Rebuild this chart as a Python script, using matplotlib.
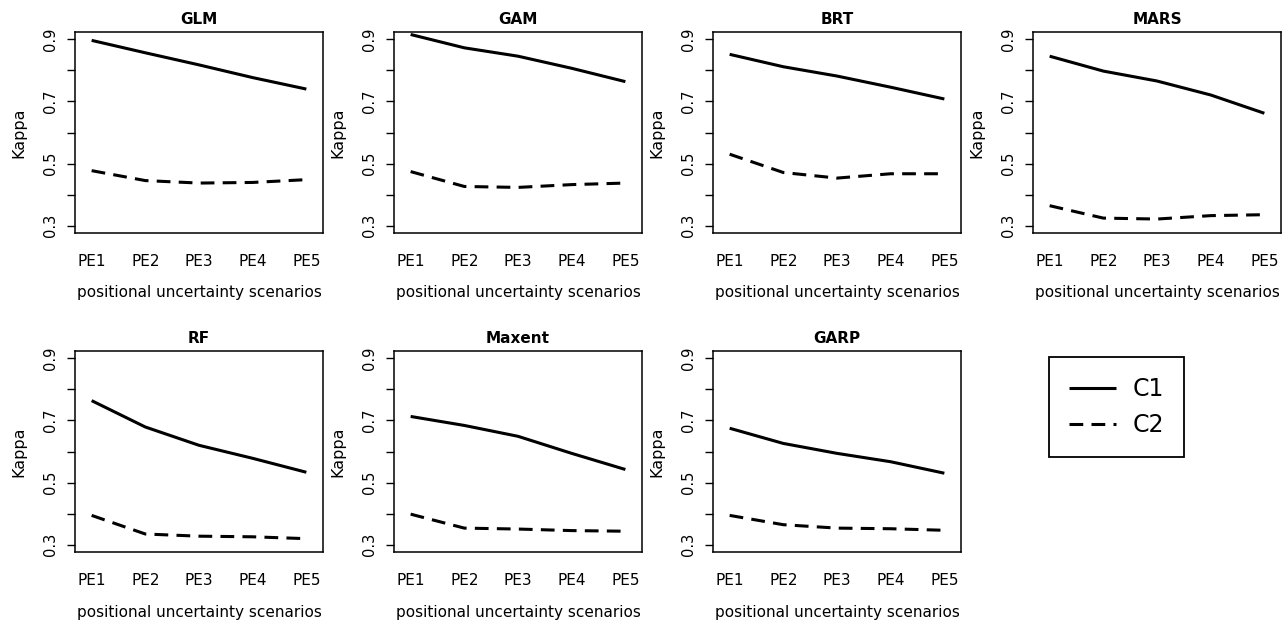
import matplotlib
matplotlib.use('Agg')
import matplotlib.pyplot as plt

# Kappa per model for the five positional uncertainty scenarios
models = ["GLM", "GAM", "BRT", "MARS", "RF", "Maxent", "GARP"]
scenarios = ["PE1", "PE2", "PE3", "PE4", "PE5"]

c1 = {
    "GLM":    [0.897, 0.857, 0.818, 0.777, 0.740],
    "GAM":    [0.916, 0.873, 0.846, 0.807, 0.764],
    "BRT":    [0.852, 0.812, 0.782, 0.746, 0.708],
    "MARS":   [0.846, 0.798, 0.766, 0.721, 0.662],
    "RF":     [0.764, 0.679, 0.620, 0.578, 0.533],
    "Maxent": [0.713, 0.684, 0.649, 0.594, 0.542],
    "GARP":   [0.675, 0.626, 0.594, 0.567, 0.530],
}
c2 = {
    "GLM":    [0.477, 0.445, 0.437, 0.439, 0.448],
    "GAM":    [0.474, 0.426, 0.423, 0.432, 0.437],
    "BRT":    [0.530, 0.471, 0.453, 0.467, 0.467],
    "MARS":   [0.364, 0.324, 0.321, 0.332, 0.335],
    "RF":     [0.394, 0.334, 0.327, 0.325, 0.319],
    "Maxent": [0.398, 0.353, 0.350, 0.345, 0.343],
    "GARP":   [0.394, 0.364, 0.353, 0.351, 0.346],
}

plt.rcParams['font.family'] = ['DejaVu Sans']

W, H = 1282, 625
fig = plt.figure(figsize=(W / 100, H / 100), dpi=100)

col_left = [75, 394, 713, 1033]
row_top = [32, 351]
ax_w, ax_h = 248, 201
x = list(range(1, 6))
dash = (4.5, 2.7)

for i, m in enumerate(models):
    r, c = divmod(i, 4)
    left = col_left[c] / W
    bottom = (H - row_top[r] - ax_h) / H
    ax = fig.add_axes([left, bottom, ax_w / W, ax_h / H])
    l1, = ax.plot(x, c1[m], color='black', lw=2.2, solid_capstyle='butt')
    l2, = ax.plot(x, c2[m], color='black', lw=2.2, dashes=dash, dash_capstyle='butt')
    ax.set_xlim(0.69, 5.31)
    ax.set_ylim(0.276, 0.924)
    ax.set_yticks([0.3, 0.4, 0.5, 0.6, 0.7, 0.8, 0.9])
    ax.set_yticklabels(["0.3", "", "0.5", "", "0.7", "", "0.9"], rotation=90, va='center')
    ax.set_xticks(x)
    ax.set_xticklabels(scenarios)
    ax.tick_params(axis='x', length=0, pad=15, labelsize=11)
    ax.tick_params(axis='y', length=5.8, width=1.0, pad=6.5, labelsize=10.5)
    ax.set_title(m, fontweight='bold', fontsize=11, pad=6)
    ax.set_xlabel("positional uncertainty scenarios", fontsize=11, labelpad=12)
    ax.set_ylabel("Kappa", fontsize=11.5, labelpad=12)
    for s in ax.spines.values():
        s.set_linewidth(1.1)

fig.legend([l1, l2], ["C1", "C2"], loc='upper left',
           bbox_to_anchor=(1049 / W, 1 - 357 / H), borderaxespad=0,
           fontsize=17, handlelength=2.0, handletextpad=0.7, borderpad=0.85,
           labelspacing=0.5, fancybox=False, edgecolor='black', framealpha=1)
fig.legends[0].get_frame().set_linewidth(1.3)

fig.savefig("out.png", dpi=100)
